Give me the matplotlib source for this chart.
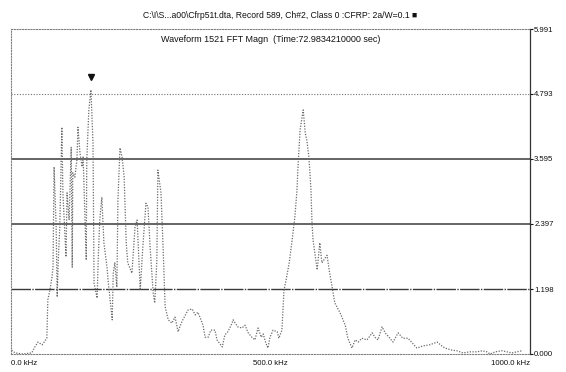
import numpy as np
import matplotlib.pyplot as plt
import matplotlib.transforms as mtransforms

# FFT magnitude spectrum (frequency in kHz, magnitude)
freq_khz = [1, 8, 23, 40, 46, 52, 60, 69, 71, 75, 79, 81, 83, 87, 89, 91, 94, 98, 100,
            106, 108, 112, 116, 118, 119, 123, 127, 129, 133, 137, 139, 145, 146, 150,
            154, 158, 160, 166, 168, 171, 175, 179, 185, 187, 195, 197, 200, 204, 206,
            210, 214, 218, 222, 225, 233, 239, 243, 249, 254, 260, 264, 268, 274, 277,
            281, 283, 289, 293, 297, 303, 310, 316, 322, 326, 331, 341, 349, 355, 360,
            364, 370, 374, 380, 385, 393, 397, 407, 412, 418, 426, 428, 432, 437, 445,
            451, 457, 464, 470, 476, 482, 486, 491, 495, 499, 505, 513, 516, 522, 526,
            530, 536, 541, 547, 551, 553, 557, 563, 567, 570, 574, 578, 580, 582, 590,
            595, 599, 609, 613, 619, 624, 634, 644, 649, 657, 663, 669, 676, 686, 696,
            701, 707, 715, 721, 730, 736, 746, 755, 765, 782, 794, 807, 821, 830, 836,
            850, 859, 871, 884, 898, 908, 917, 923, 933, 946, 956, 965, 975, 985]
magnitude = [0.07, 0.02, 0.00, 0.02, 0.13, 0.22, 0.17, 0.29, 1.00, 1.18, 1.42, 1.60, 3.45,
             2.34, 1.05, 1.73, 2.34, 4.18, 2.97, 1.79, 2.97, 2.47, 3.81, 1.60, 3.34, 3.26,
             3.58, 4.18, 3.70, 3.45, 3.63, 1.73, 3.58, 4.50, 4.87, 3.89, 1.31, 1.03, 1.73,
             2.47, 2.89, 2.05, 1.60, 1.36, 0.63, 1.49, 1.68, 1.23, 2.84, 3.80, 3.63, 3.26,
             2.05, 1.68, 1.49, 2.34, 2.47, 1.18, 1.97, 2.78, 2.71, 1.97, 1.12, 0.94, 1.73,
             3.39, 2.97, 1.97, 0.87, 0.63, 0.57, 0.68, 0.41, 0.52, 0.63, 0.81, 0.83, 0.72,
             0.77, 0.68, 0.53, 0.31, 0.31, 0.44, 0.44, 0.26, 0.13, 0.35, 0.41, 0.57, 0.63,
             0.57, 0.50, 0.48, 0.53, 0.39, 0.31, 0.26, 0.48, 0.31, 0.37, 0.20, 0.11, 0.31,
             0.44, 0.41, 0.29, 0.44, 1.18, 1.36, 1.68, 2.05, 2.53, 3.02, 3.45, 4.13, 4.50,
             4.07, 3.94, 3.63, 3.02, 2.41, 2.10, 1.55, 2.05, 1.68, 1.82, 1.55, 1.22, 0.94,
             0.76, 0.53, 0.29, 0.11, 0.26, 0.22, 0.29, 0.26, 0.39, 0.31, 0.26, 0.50, 0.39,
             0.29, 0.22, 0.39, 0.29, 0.29, 0.11, 0.15, 0.17, 0.22, 0.15, 0.11, 0.07, 0.06,
             0.02, 0.04, 0.04, 0.06, 0.04, 0.00, 0.04, 0.06, 0.04, 0.02, 0.04, 0.06]

y_ticks = [0.000, 1.198, 2.397, 3.595, 4.793, 5.991]
x_ticks = [0.0, 500.0, 1000.0]
x_labels = ['0.0 kHz', '500.0 kHz', '1000.0 kHz']

title = 'C:\\I\\S...a00\\Cfrp51t.dta, Record 589, Ch#2, Class 0 :CFRP: 2a/W=0.1 \u25a0'
subtitle = 'Waveform 1521 FFT Magn  (Time:72.9834210000 sec)'

plt.rcParams['font.family'] = ['Liberation Sans', 'DejaVu Sans']

fig = plt.figure(figsize=(5.66, 3.72), dpi=100)
ax = fig.add_axes([11 / 566, 18 / 372, 519 / 566, 325 / 372])

ax.set_xlim(0, 1000)
ax.set_ylim(0, 5.991)

# horizontal reference lines
for y in y_ticks[2:4]:
    ax.axhline(y, color='#3a3a3a', lw=1.1, zorder=1)
ax.axhline(y_ticks[1], color='#3a3a3a', lw=1.0, ls=(0, (14, 1, 1, 1)), zorder=1)
ax.axhline(y_ticks[4], color='#707070', lw=0.8, ls=(0, (1, 1.5)), zorder=1)

# spectrum
ax.plot(freq_khz, magnitude, color='#6a6a6a', lw=0.9, ls=(0, (1, 1.2)), zorder=2)

# peak marker
i_peak = int(np.argmax(magnitude))
offset = mtransforms.offset_copy(ax.transData, fig=fig, x=0, y=9, units='points')
ax.plot(freq_khz[i_peak], magnitude[i_peak], marker='v', color='#111111',
        markersize=4, transform=offset, clip_on=False)

# frame: dotted left/top/bottom, right axis carries the scale
for side in ['left', 'top', 'bottom']:
    ax.spines[side].set_linestyle((0, (1, 1.5)))
    ax.spines[side].set_color('#808080')
    ax.spines[side].set_linewidth(0.8)
ax.spines['right'].set_linestyle((0, (2, 1)))
ax.spines['right'].set_color('#333333')
ax.spines['right'].set_linewidth(0.9)

ax.yaxis.tick_right()
ax.set_yticks(y_ticks)
ax.set_yticklabels([f'{v:.3f}' for v in y_ticks])
ax.tick_params(axis='y', length=2, width=0.8, pad=1, labelsize=5.6, colors='#111111')

ax.set_xticks(x_ticks)
ax.set_xticklabels(x_labels)
ax.tick_params(axis='x', length=0, pad=4, labelsize=5.6, colors='#111111')
xl = ax.get_xticklabels()
xl[0].set_horizontalalignment('left')
xl[-1].set_horizontalalignment('right')

fig.text(280 / 566, 1 - 15 / 372, title, ha='center', va='center',
         fontsize=6.2, color='#111111')
ax.text(0.5, 1 - 11 / 325, subtitle, transform=ax.transAxes, ha='center',
        va='center', fontsize=6.5, color='#111111')

fig.savefig('out.png', dpi=100)
